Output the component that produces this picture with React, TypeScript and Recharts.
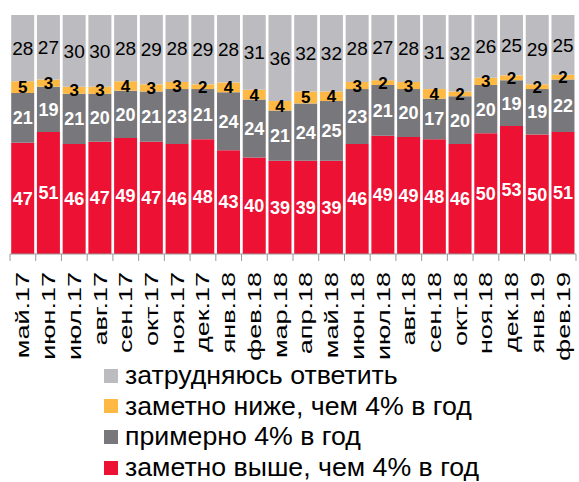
import React from 'react'
import { BarChart, Bar, XAxis, YAxis, Legend, LabelList } from 'recharts'

const months = [
  'май.17', 'июн.17', 'июл.17', 'авг.17', 'сен.17', 'окт.17', 'ноя.17', 'дек.17',
  'янв.18', 'фев.18', 'мар.18', 'апр.18', 'май.18', 'июн.18', 'июл.18', 'авг.18',
  'сен.18', 'окт.18', 'ноя.18', 'дек.18', 'янв.19', 'фев.19',
]

// заметно выше, чем 4% в год
const higher = [47, 51, 46, 47, 49, 47, 46, 48, 43, 40, 39, 39, 39, 46, 49, 49, 48, 46, 50, 53, 50, 51]
// примерно 4% в год
const about = [21, 19, 21, 20, 20, 21, 23, 21, 24, 24, 21, 24, 25, 23, 21, 20, 17, 20, 20, 19, 19, 22]
// заметно ниже, чем 4% в год
const lower = [5, 3, 3, 3, 4, 3, 3, 2, 4, 4, 4, 5, 4, 3, 2, 3, 4, 2, 3, 2, 2, 2]
// затрудняюсь ответить
const unsure = [28, 27, 30, 30, 28, 29, 28, 29, 28, 31, 36, 32, 32, 28, 27, 28, 31, 32, 26, 25, 29, 25]

const data = months.map((m, i) => ({
  month: m,
  higher: higher[i],
  about: about[i],
  lower: lower[i],
  unsure: unsure[i],
}))

const RED = '#ED1134'
const DARK = '#78787C'
const ORANGE = '#FDB944'
const LIGHT = '#BCBBBF'
const FONT = '"Liberation Sans", Arial, sans-serif'

const legendItems = [
  { label: 'затрудняюсь ответить', color: LIGHT },
  { label: 'заметно ниже, чем 4% в год', color: ORANGE },
  { label: 'примерно 4% в год', color: DARK },
  { label: 'заметно выше, чем 4% в год', color: RED },
]

function MonthTick(props: any) {
  const { x, y, payload, index } = props
  const half = payload.offset || 566 / months.length / 2
  return (
    <g>
      <line x1={x - half} y1={y} x2={x - half} y2={y + 7} stroke="#9a9a9a" />
      {index === months.length - 1 && (
        <line x1={x + half} y1={y} x2={x + half} y2={y + 7} stroke="#9a9a9a" />
      )}
      <text
        transform={`translate(${x + 6.5},${y + 18}) rotate(-90) scale(1.46,1)`}
        textAnchor="end"
        fontSize={18.5}
        fill="#000"
      >
        {payload.value}
      </text>
    </g>
  )
}

function LegendBox() {
  return (
    <div style={{ fontFamily: FONT }}>
      {legendItems.map((it) => (
        <div key={it.label} style={{ position: 'relative', height: 30.7 }}>
          <div
            style={{
              position: 'absolute',
              left: 0,
              top: 8.5,
              width: 14,
              height: 14,
              background: it.color,
            }}
          />
          <div
            style={{
              position: 'absolute',
              left: 21,
              top: 0,
              fontSize: 26.7,
              lineHeight: '30.7px',
              whiteSpace: 'nowrap',
              color: '#000',
            }}
          >
            {it.label}
          </div>
        </div>
      ))}
    </div>
  )
}

export default function App() {
  return (
    <div style={{ position: 'absolute', left: 0, top: 0, background: '#fff' }}>
      <BarChart
        width={579}
        height={482}
        data={data}
        stackOffset="expand"
        barCategoryGap={1.2}
        margin={{ top: 15, right: 3, bottom: 0, left: 10 }}
        style={{ fontFamily: FONT }}
      >
        <XAxis
          dataKey="month"
          interval={0}
          height={228}
          tickSize={0}
          tickMargin={0}
          tickLine={false}
          axisLine={{ stroke: '#9a9a9a' }}
          tick={<MonthTick />}
        />
        <YAxis hide />
        <Legend
          layout="vertical"
          align="center"
          verticalAlign="middle"
          content={<LegendBox />}
          wrapperStyle={{ position: 'absolute', left: 104, top: 360, width: 470 }}
        />
        <Bar dataKey="higher" stackId="a" fill={RED} isAnimationActive={false}>
          <LabelList dataKey="higher" position="center" fill="#fff" fontSize={18} fontWeight="bold" />
        </Bar>
        <Bar dataKey="about" stackId="a" fill={DARK} isAnimationActive={false}>
          <LabelList dataKey="about" position="center" fill="#fff" fontSize={18} fontWeight="bold" />
        </Bar>
        <Bar dataKey="lower" stackId="a" fill={ORANGE} isAnimationActive={false}>
          <LabelList dataKey="lower" position="center" fill="#000" fontSize={17} fontWeight="bold" />
        </Bar>
        <Bar dataKey="unsure" stackId="a" fill={LIGHT} isAnimationActive={false}>
          <LabelList dataKey="unsure" position="center" fill="#000" fontSize={19} />
        </Bar>
      </BarChart>
    </div>
  )
}
